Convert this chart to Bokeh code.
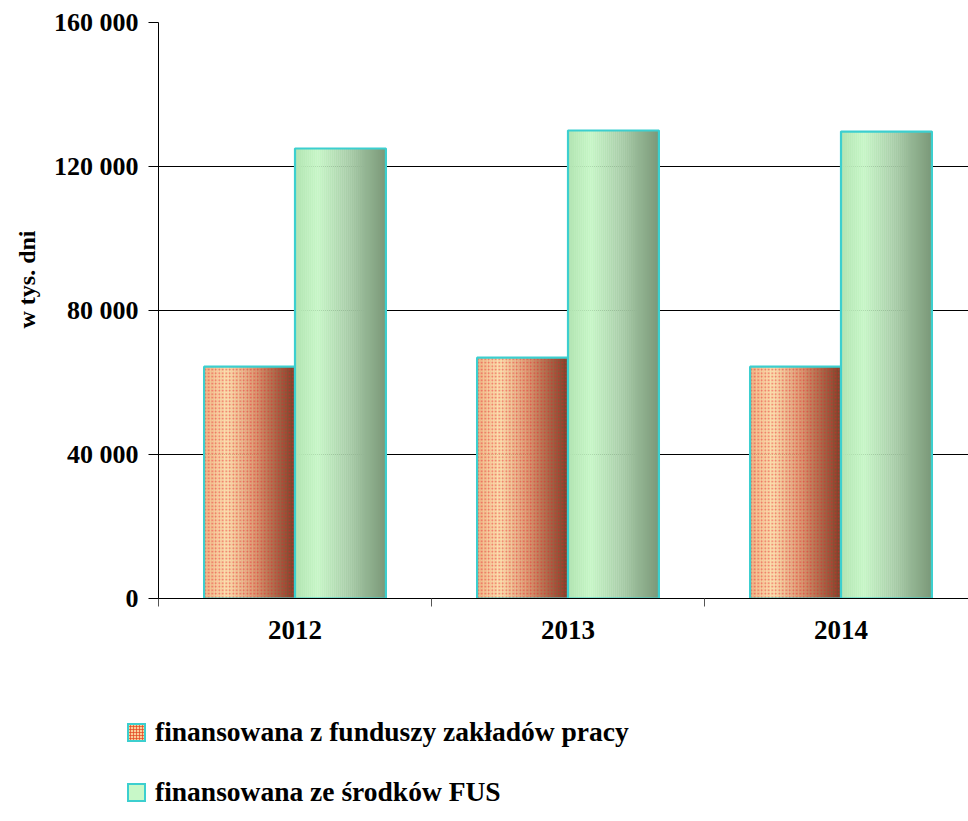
import numpy as np
from bokeh.plotting import figure
from bokeh.layouts import column
from bokeh.models import Range1d, FixedTicker, ColumnDataSource, Title, Div
from bokeh.embed import file_html
from bokeh.resources import INLINE

# ---- data ----
years = ["2012", "2013", "2014"]
zaklady = [64400, 66900, 64400]        # finansowana z funduszy zakładów pracy
fus = [125000, 130000, 129700]         # finansowana ze środków FUS
y_ticks = [0, 40000, 80000, 120000, 160000]
y_tick_labels = ["0", "40 000", "80 000", "120 000", "160 000"]
series_labels = ["finansowana z funduszy zakładów pracy", "finansowana ze środków FUS"]
y_title = "w tys. dni"

FONT = "Liberation Serif"
OUTLINE = "#3ccfcf"
W = 968
LEFT, TOP, BOTTOM = 158, 22, 60
PH = 658          # main figure height
LH = 163          # legend block height

p = figure(width=W, height=PH, output_backend="svg", toolbar_location=None,
           x_range=Range1d(0, (W - LEFT) / 273), y_range=Range1d(0, 160000),
           min_border_left=LEFT, min_border_right=0, min_border_top=TOP,
           min_border_bottom=BOTTOM)
p.outline_line_color = None
p.background_fill_color = "white"
p.border_fill_color = "white"

def hex_to_rgb(h):
    h = h.lstrip("#")
    return np.array([int(h[i:i + 2], 16) for i in (0, 2, 4)], dtype=float)

def gradient(stops, t):
    pos = [s[0] for s in stops]
    cols = [hex_to_rgb(s[1]) for s in stops]
    out = []
    for tt in t:
        for j in range(len(pos) - 1):
            if pos[j] <= tt <= pos[j + 1]:
                f = (tt - pos[j]) / (pos[j + 1] - pos[j])
                c = cols[j] * (1 - f) + cols[j + 1] * f
                out.append("#%02x%02x%02x" % tuple(int(round(v)) for v in c))
                break
    return out

orange_stops = [(0.0, "#eeb080"), (0.25, "#fbdca8"), (0.55, "#dc9870"), (1.0, "#7a4028")]
green_stops = [(0.0, "#b2e4b2"), (0.25, "#c6f6c6"), (0.6, "#a8cca8"), (1.0, "#7a9878")]

n_cat = len(years)
centers = np.arange(n_cat) + 0.5
bar_w = 0.333
N = 45

def draw_series(vals, offset, stops, hatch):
    xs = centers + offset
    t = (np.arange(N) + 0.5) / N
    cols = gradient(stops, t)
    sw = bar_w / N
    left, right, top, color = [], [], [], []
    for xc, v in zip(xs, vals):
        l0 = xc - bar_w / 2
        for k in range(N):
            left.append(l0 + k * sw)
            right.append(min(l0 + (k + 1.15) * sw, xc + bar_w / 2))
            top.append(v)
            color.append(cols[k])
    src = ColumnDataSource(dict(left=left, right=right, top=top, color=color))
    p.quad(left="left", right="right", bottom=0, top="top", fill_color="color",
           line_color=None, source=src)
    kw = {}
    if hatch:
        kw = dict(hatch_pattern="dot", hatch_color="#e8202a", hatch_alpha=0.6,
                  hatch_scale=3.5, hatch_weight=1.2)
    p.vbar(x=xs, top=vals, width=bar_w, bottom=0, fill_alpha=0,
           line_color=OUTLINE, line_width=2.2, **kw)

draw_series(zaklady, -0.1665, orange_stops, True)
draw_series(fus, 0.1665, green_stops, False)

# axes
xa = p.xaxis[0]
xa.ticker = FixedTicker(ticks=list(centers), minor_ticks=list(range(n_cat + 1)))
xa.major_label_overrides = {float(c): y for c, y in zip(centers, years)}
xa.major_tick_out = 0
xa.major_tick_in = 0
xa.minor_tick_out = 8
xa.minor_tick_in = 0
xa.minor_tick_line_color = "#555555"
xa.axis_line_color = "black"
xa.major_label_standoff = 14
xa.major_label_text_font = FONT
xa.major_label_text_font_style = "bold"
xa.major_label_text_font_size = "27px"
xa.major_label_text_color = "black"

ya = p.yaxis[0]
ya.ticker = FixedTicker(ticks=y_ticks)
ya.major_label_overrides = {float(v): s for v, s in zip(y_ticks, y_tick_labels)}
ya.major_tick_out = 10
ya.major_tick_in = 0
ya.minor_tick_line_color = None
ya.axis_line_color = "black"
ya.major_tick_line_color = "black"
ya.major_label_standoff = 10
ya.major_label_text_font = FONT
ya.major_label_text_font_style = "bold"
ya.major_label_text_font_size = "26px"
ya.major_label_text_color = "black"

ttl = Title(text=y_title, align="right", offset=208, standoff=22,
            text_font=FONT, text_font_style="bold", text_font_size="24px",
            text_color="black")
p.add_layout(ttl, "left")

p.xgrid.visible = False
p.ygrid.ticker = FixedTicker(ticks=y_ticks)
p.ygrid.grid_line_color = "black"
p.ygrid.grid_line_alpha = 1.0
p.ygrid.grid_line_width = 1

# ---- legend block ----
swatches = [
    "background-color:#f9cf98;"
    "background-image:radial-gradient(circle, #e4502c 45%, transparent 55%);"
    "background-size:3px 3px;",
    "background-color:#c8f8c8;",
]
item_centers = [75, 135]
items_html = ""
for lab, sw, cy in zip(series_labels, swatches, item_centers):
    items_html += (
        f'<div style="position:absolute;left:127px;top:{cy - 10}px;width:19px;height:19px;'
        f'box-sizing:border-box;border:2px solid {OUTLINE};{sw}"></div>'
        f'<div style="position:absolute;left:155px;top:{cy - 16}px;line-height:30px;'
        f'font-family:\'{FONT}\';font-weight:bold;font-size:27.5px;color:black;'
        f'white-space:nowrap;">{lab}</div>'
    )
legend_div = Div(text=f'<div style="position:relative;width:{W}px;height:{LH}px;">{items_html}</div>',
                 width=W, height=LH, margin=0)

layout = column(p, legend_div, spacing=0)
open("out.html", "w").write(file_html(layout, INLINE))
